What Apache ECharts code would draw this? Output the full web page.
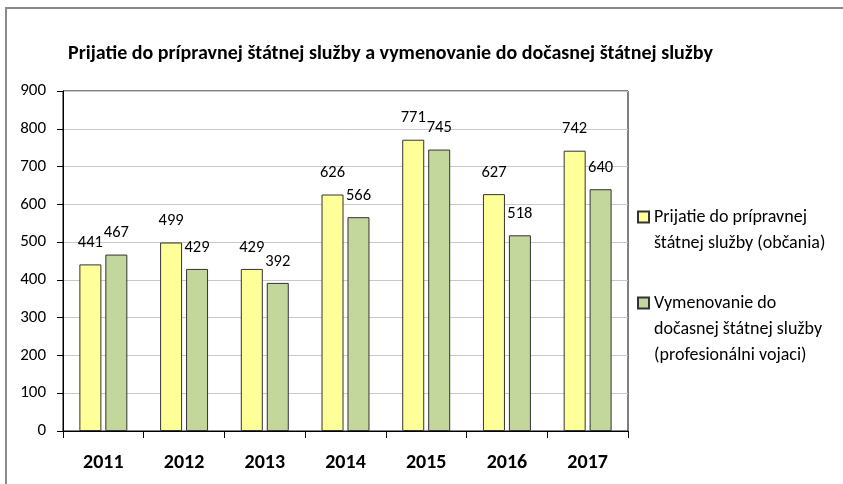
<!DOCTYPE html>
<html>
<head>
<meta charset="utf-8">
<script src="https://cdn.jsdelivr.net/npm/echarts@6/dist/echarts.min.js"></script>
<style>
  html, body { margin: 0; padding: 0; background: #fff; }
  #frame { position: absolute; left: 5px; top: 7px; width: 850px; height: 490px; border: 2px solid #8a8a8a; box-sizing: border-box; }
  #chart { position: absolute; left: 0; top: 0; width: 843px; height: 484px; }
</style>
</head>
<body>
<div id="frame"></div>
<div id="chart"></div>
<script>
const years = ["2011", "2012", "2013", "2014", "2015", "2016", "2017"];
const prijatie = [441, 499, 429, 626, 771, 627, 742];
const vymenovanie = [467, 429, 392, 566, 745, 518, 640];
const seriesNames = [
  "Prijatie do prípravnej\nštátnej služby (občania)",
  "Vymenovanie do\ndočasnej štátnej služby\n(profesionálni vojaci)"
];

const font = "Carlito, Lato, 'Noto Sans', sans-serif";
const legendText = { fontFamily: font, fontSize: 18, color: "#000", lineHeight: 26 };
const valueLabel = { show: true, position: "top", distance: 13, fontFamily: font, fontSize: 16.5, color: "#000" };

const chart = echarts.init(document.getElementById("chart"));
const option = {
  backgroundColor: "transparent",
  animation: false,
  title: {
    text: "Prijatie do prípravnej štátnej služby a vymenovanie do dočasnej štátnej služby",
    left: 63,
    top: 39,
    textStyle: { fontFamily: font, fontSize: 20, fontWeight: "bold", color: "#000" },
  },
  // one legend per entry so the marker sits next to the first line of text
  legend: [
    {
      orient: "vertical",
      left: 637,
      top: 178,
      padding: 0,
      icon: "rect",
      itemWidth: 11,
      itemHeight: 11,
      textStyle: legendText,
      formatter: (name) => "\n" + name,
      data: [seriesNames[0]],
    },
    {
      orient: "vertical",
      left: 637,
      top: 238,
      padding: 0,
      icon: "rect",
      itemWidth: 11,
      itemHeight: 11,
      textStyle: legendText,
      formatter: (name) => "\n\n" + name,
      data: [seriesNames[1]],
    },
  ],
  grid: {
    left: 63,
    top: 91,
    right: 215,
    bottom: 53,
    show: true,
    borderColor: "#000",
    borderWidth: 1,
  },
  xAxis: {
    type: "category",
    data: years,
    axisLine: { lineStyle: { color: "#000", width: 1 } },
    axisTick: { show: true, length: 7, lineStyle: { color: "#000" } },
    axisLabel: { fontFamily: font, fontSize: 20, fontWeight: "bold", color: "#000", margin: 22 },
  },
  yAxis: {
    type: "value",
    min: 0,
    max: 900,
    interval: 100,
    axisLine: { show: true, lineStyle: { color: "#000", width: 1 } },
    axisTick: { show: true, length: 6, lineStyle: { color: "#000" } },
    axisLabel: { fontFamily: font, fontSize: 17, color: "#000", margin: 17 },
    splitLine: { lineStyle: { color: "#c8c8c8", width: 1 } },
  },
  series: [
    {
      name: seriesNames[0],
      type: "bar",
      data: prijatie,
      barWidth: 22,
      barGap: "18%",
      itemStyle: { color: "#FFFF99", borderColor: "#333", borderWidth: 1 },
      label: valueLabel,
    },
    {
      name: seriesNames[1],
      type: "bar",
      data: vymenovanie,
      barWidth: 22,
      barGap: "18%",
      itemStyle: { color: "#C3D69B", borderColor: "#333", borderWidth: 1 },
      label: valueLabel,
    },
  ],
};
chart.setOption(option);
</script>
</body>
</html>
